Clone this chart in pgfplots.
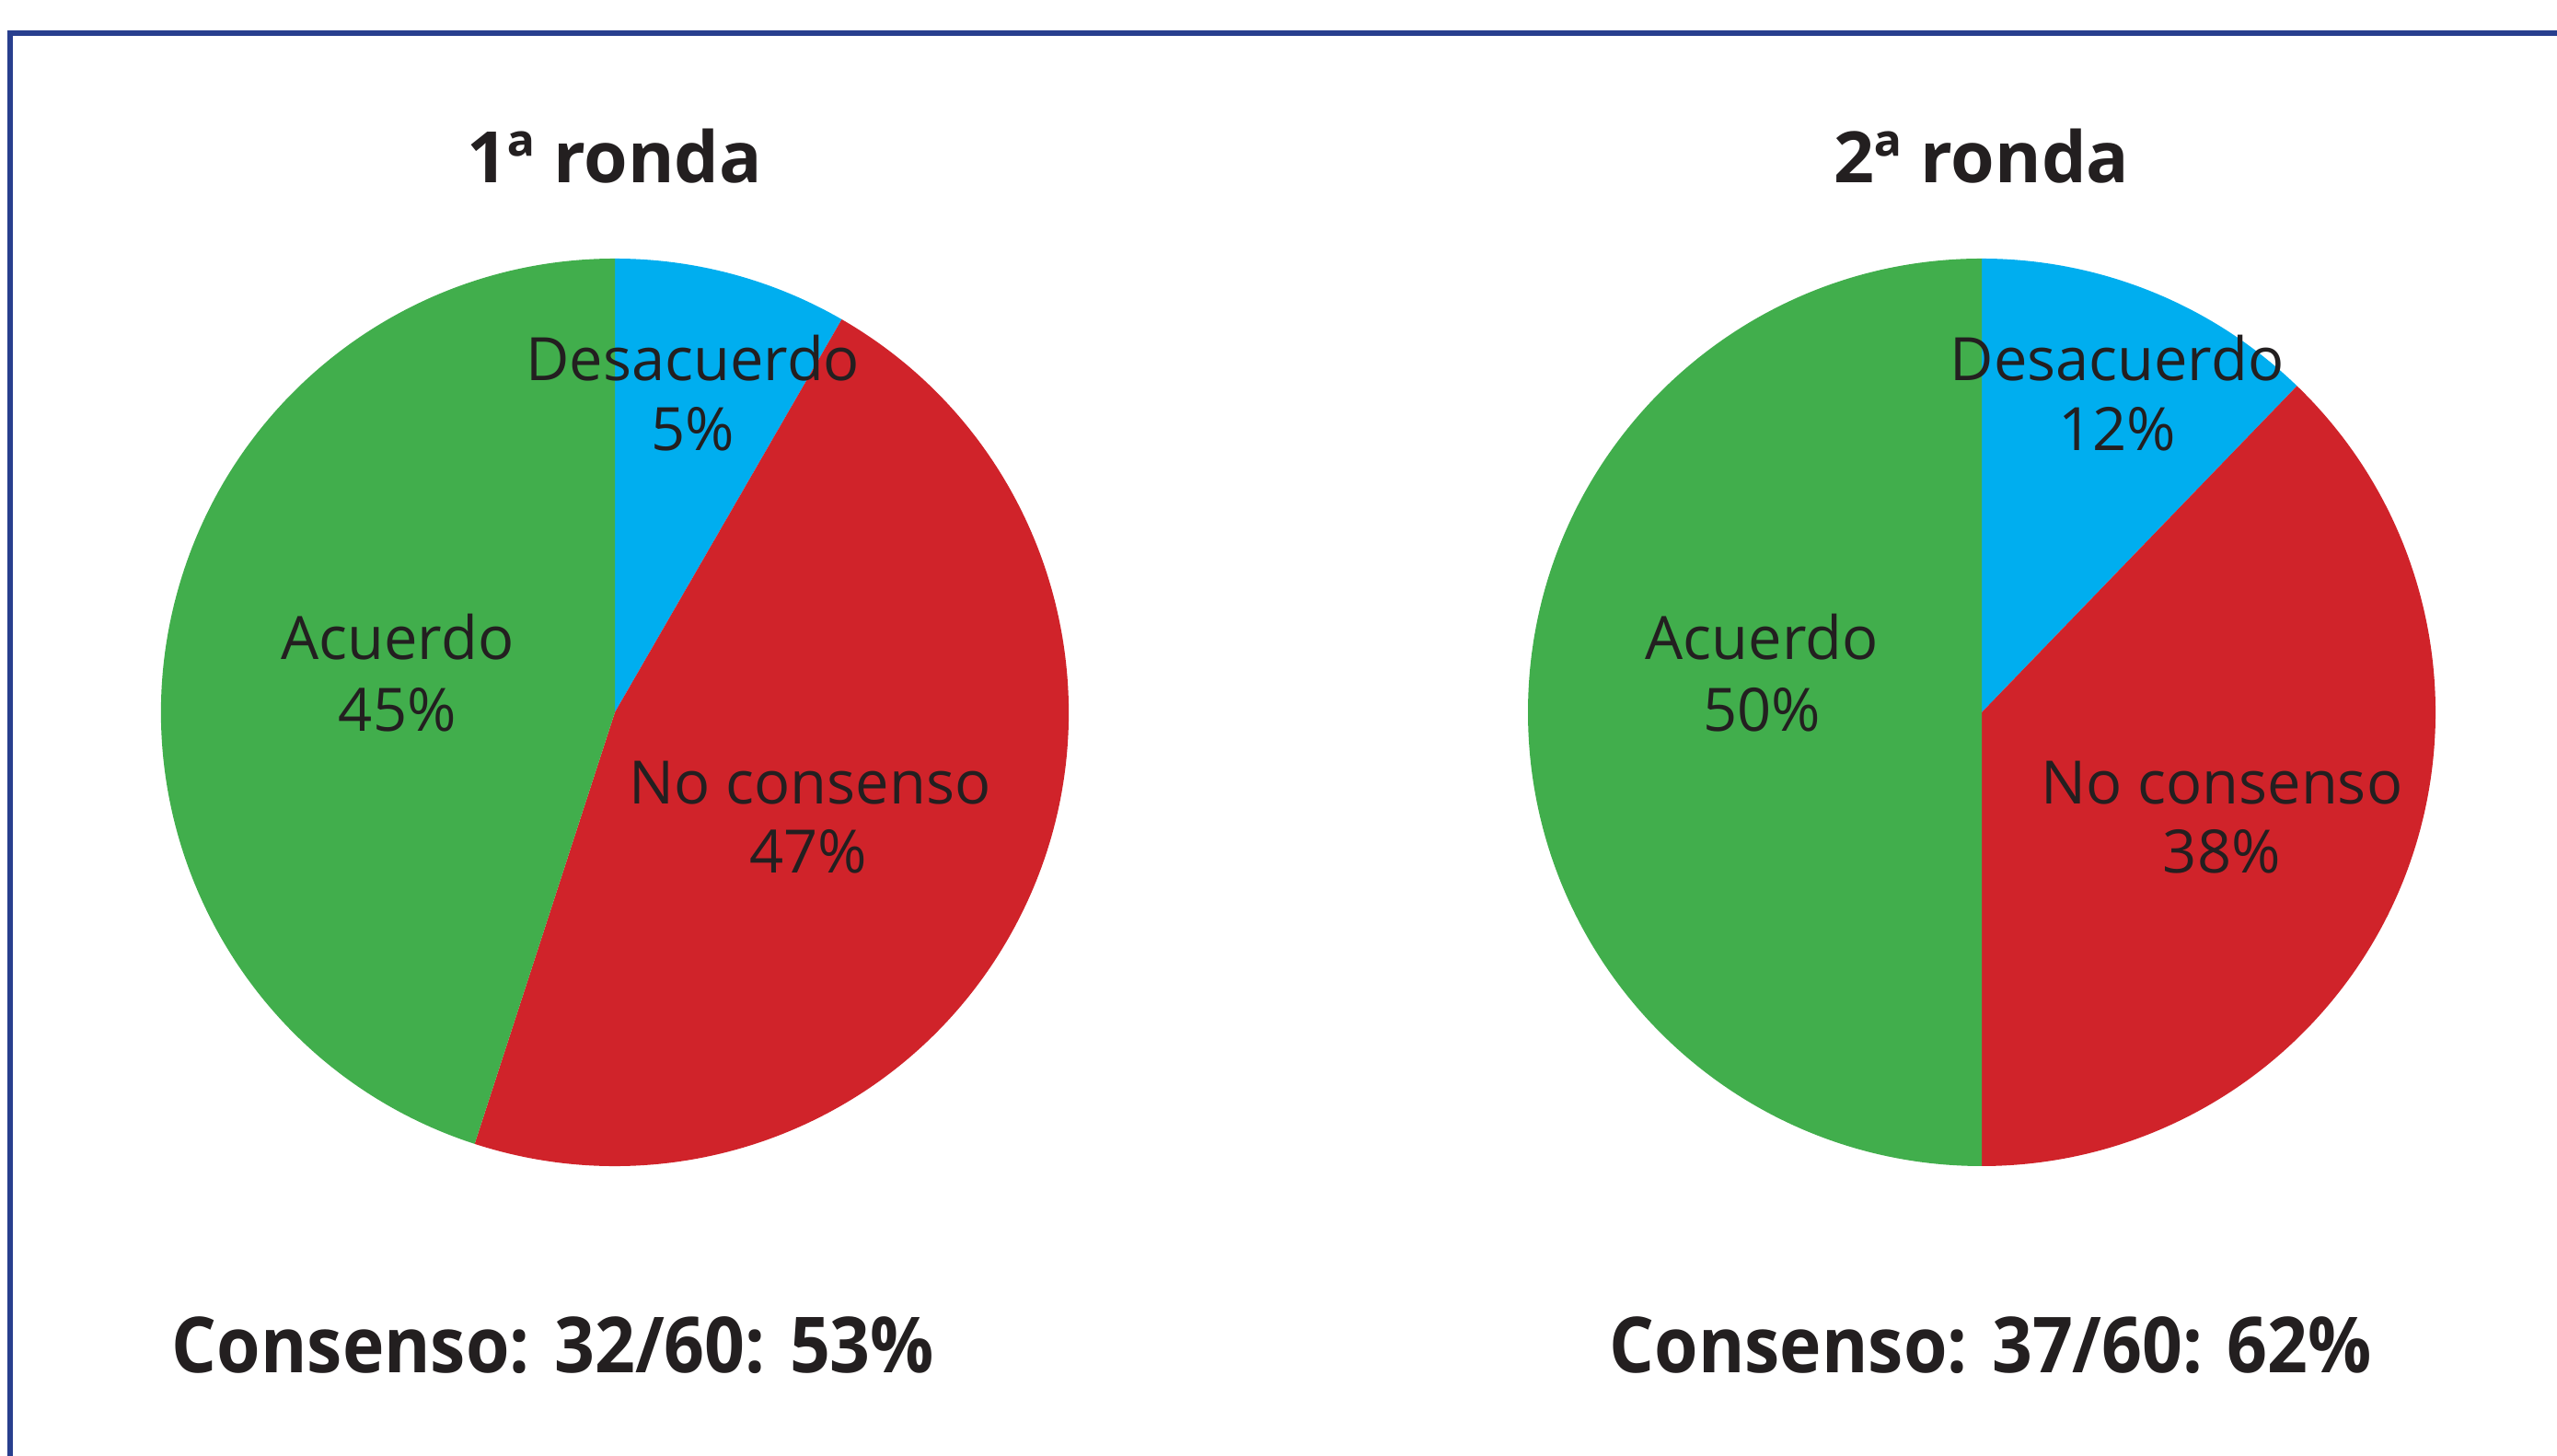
\documentclass[border=0pt]{standalone}
\usepackage{fontspec}
\setmainfont{Open Sans}
\newfontfamily\condfont[FakeStretch=0.915]{Open Sans}
\usepackage{pgfplots}
\pgfplotsset{compat=1.18}
\definecolor{cblue}{HTML}{00AEEF}
\definecolor{cred}{HTML}{D0232A}
\definecolor{cgreen}{HTML}{41AE4C}
\definecolor{ctext}{HTML}{231F20}
\definecolor{cframe}{HTML}{283F8E}
\def\R{73.95pt}
% slice sizes in degrees
% round 1: Desacuerdo 30, No consenso 168, Acuerdo 162
% round 2: Desacuerdo 44, No consenso 136, Acuerdo 180
\newcommand\labfont{\fontsize{9.75}{11}\selectfont\color{ctext}}
\newcommand\titfont{\fontsize{11.55}{13}\selectfont\bfseries\color{ctext}}
\newcommand\botfont{\fontsize{12.6}{14}\selectfont\condfont\bfseries\color{ctext}}
\pgfplotsset{pie/.style={hide axis, clip=false, x=\R, y=\R,
  xmin=-1.2, xmax=1.2, ymin=-1.2, ymax=1.2, anchor=origin}}
\begin{document}
\begin{tikzpicture}
\useasboundingbox (0,0) rectangle (416.7pt,237.3pt);
\draw[cframe, line width=0.9pt, line join=miter] (1.65pt,-1pt) -- (1.65pt,231.9pt) -- (418pt,231.9pt);
\begin{axis}[pie, at={(100.2pt,121.2pt)}]
\fill[cblue] (axis cs:0,0) -- +(90:\R) arc[start angle=90, delta angle=-30, radius=\R] -- cycle;
\fill[cred] (axis cs:0,0) -- +(60:\R) arc[start angle=60, delta angle=-168, radius=\R] -- cycle;
\fill[cgreen] (axis cs:0,0) -- +(-108:\R) arc[start angle=-108, delta angle=-162, radius=\R] -- cycle;
\node[anchor=base, font=\titfont] at (axis cs:0,1.168) {1ª ronda};
\node[anchor=base, font=\labfont] at (axis cs:0.172,0.732) {Desacuerdo};
\node[anchor=base, font=\labfont] at (axis cs:0.172,0.578) {5\%};
\node[anchor=base, font=\labfont] at (axis cs:-0.479,0.116) {Acuerdo};
\node[anchor=base, font=\labfont] at (axis cs:-0.479,-0.041) {45\%};
\node[anchor=base, font=\labfont] at (axis cs:0.430,-0.201) {No consenso};
\node[anchor=base, font=\labfont] at (axis cs:0.426,-0.355) {47\%};
\node[anchor=base, font=\botfont] at (axis cs:-0.136,-1.456) {Consenso: 32/60: 53\%};
\end{axis}
\begin{axis}[pie, at={(322.95pt,121.2pt)}]
\fill[cblue] (axis cs:0,0) -- +(90:\R) arc[start angle=90, delta angle=-44, radius=\R] -- cycle;
\fill[cred] (axis cs:0,0) -- +(46:\R) arc[start angle=46, delta angle=-136, radius=\R] -- cycle;
\fill[cgreen] (axis cs:0,0) -- +(-90:\R) arc[start angle=-90, delta angle=-180, radius=\R] -- cycle;
\node[anchor=base, font=\titfont] at (axis cs:0,1.168) {2ª ronda};
\node[anchor=base, font=\labfont] at (axis cs:0.298,0.732) {Desacuerdo};
\node[anchor=base, font=\labfont] at (axis cs:0.298,0.578) {12\%};
\node[anchor=base, font=\labfont] at (axis cs:-0.485,0.116) {Acuerdo};
\node[anchor=base, font=\labfont] at (axis cs:-0.485,-0.041) {50\%};
\node[anchor=base, font=\labfont] at (axis cs:0.529,-0.201) {No consenso};
\node[anchor=base, font=\labfont] at (axis cs:0.529,-0.355) {38\%};
\node[anchor=base, font=\botfont] at (axis cs:0.020,-1.456) {Consenso: 37/60: 62\%};
\end{axis}
\end{tikzpicture}
\end{document}
